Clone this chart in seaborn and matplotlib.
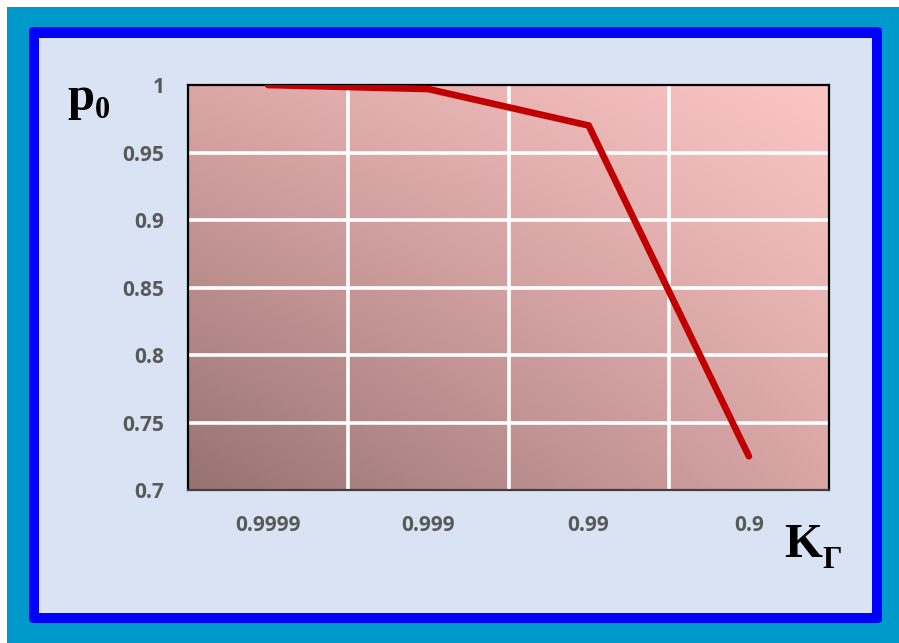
import numpy as np
import pandas as pd
import matplotlib
matplotlib.use("Agg")
import matplotlib.pyplot as plt
from matplotlib.patches import FancyBboxPatch, Rectangle
from matplotlib.colors import to_rgb
import seaborn as sns

# Data
k_gamma = ["0.9999", "0.999", "0.99", "0.9"]
p0 = [1.0, 0.997, 0.97, 0.725]
y_ticks = [0.7, 0.75, 0.8, 0.85, 0.9, 0.95, 1.0]
y_tick_labels = ["0.7", "0.75", "0.8", "0.85", "0.9", "0.95", "1"]

sns.set_theme(style="white")
plt.rcParams["font.family"] = ["Open Sans", "DejaVu Sans"]

W, H = 899, 643
fig = plt.figure(figsize=(W / 100, H / 100), dpi=100)
fig.patch.set_facecolor("#0099cc")


def fx(px):
    return px / W


def fy(py):
    return 1 - py / H


# thin white strips along the top and left edges
fig.patches.append(Rectangle((0, fy(7)), 1, 7 / H, transform=fig.transFigure,
                             facecolor="white", edgecolor="none", zorder=0))
fig.patches.append(Rectangle((0, 0), fx(7), 1, transform=fig.transFigure,
                             facecolor="white", edgecolor="none", zorder=0))

# blue frame and light panel
fig.patches.append(FancyBboxPatch((fx(29), fy(623)), fx(882) - fx(29), fy(27) - fy(623),
                                  boxstyle="round,pad=0,rounding_size=0.006",
                                  transform=fig.transFigure, facecolor="#0000ff",
                                  edgecolor="none", zorder=1))
fig.patches.append(Rectangle((fx(39), fy(613)), fx(872) - fx(39), fy(38) - fy(613),
                             transform=fig.transFigure, facecolor="#dae3f3",
                             edgecolor="none", zorder=2))

ax = fig.add_axes([fx(188), fy(490), fx(829) - fx(188), fy(85) - fy(490)])
ax.set_zorder(3)

# smooth bilinear blend between the four corner colours of the plotting area
tl, tr = np.array(to_rgb("#dca6a6")), np.array(to_rgb("#fcc6c6"))
bl, br = np.array(to_rgb("#967272")), np.array(to_rgb("#d9a5a5"))
n = 256
u = np.linspace(0, 1, n)[None, :, None]   # left -> right
v = np.linspace(0, 1, n)[:, None, None]   # top -> bottom
grad = (1 - v) * ((1 - u) * tl + u * tr) + v * ((1 - u) * bl + u * br)
ax.imshow(grad, extent=[-0.5, 3.5, 0.7, 1.0], aspect="auto",
          interpolation="bilinear", zorder=0)

df = pd.DataFrame({"K": k_gamma, "p0": p0})
sns.lineplot(data=df, x="K", y="p0", sort=False, color="#c00000", linewidth=4.8,
             ax=ax, zorder=3)
for ln in ax.lines:
    ln.set_solid_capstyle("round")
    ln.set_solid_joinstyle("miter")

ax.set_xlim(-0.5, 3.5)
ax.set_ylim(0.7, 1.0)
ax.set_xticks(range(len(k_gamma)))
ax.set_xticklabels(k_gamma)
ax.set_yticks(y_ticks)
ax.set_yticklabels(y_tick_labels)

# white grid: category boundaries and value levels
for xv in [0.5, 1.5, 2.5]:
    ax.axvline(xv, color="white", lw=2.6, zorder=1)
for yv in y_ticks[1:-1]:
    ax.axhline(yv, color="white", lw=2.6, zorder=1)

ax.tick_params(axis="both", length=0, labelsize=15, labelcolor="#595959")
ax.tick_params(axis="y", pad=17)
ax.tick_params(axis="x", pad=18)
for lab in ax.get_xticklabels() + ax.get_yticklabels():
    lab.set_fontweight("bold")

for s in ax.spines.values():
    s.set_visible(True)
    s.set_color("black")
    s.set_linewidth(1.6)
ax.spines["bottom"].set_color("#404040")
ax.set_xlabel("")
ax.set_ylabel("")

serif = ["Liberation Serif", "DejaVu Serif"]
fig.text(fx(67), fy(110), "p", fontsize=35, fontweight="bold", family=serif,
         color="black", va="baseline", ha="left", zorder=5)
fig.text(fx(95), fy(118), "0", fontsize=22, fontweight="bold", family=serif,
         color="black", va="baseline", ha="left", zorder=5)
fig.text(fx(784), fy(557), "K", fontsize=35, fontweight="bold", family=serif,
         color="black", va="baseline", ha="left", zorder=5)
fig.text(fx(822), fy(568), "Γ", fontsize=22, fontweight="bold", family=serif,
         color="black", va="baseline", ha="left", zorder=5)

fig.savefig("out.png", dpi=100, facecolor=fig.get_facecolor())
